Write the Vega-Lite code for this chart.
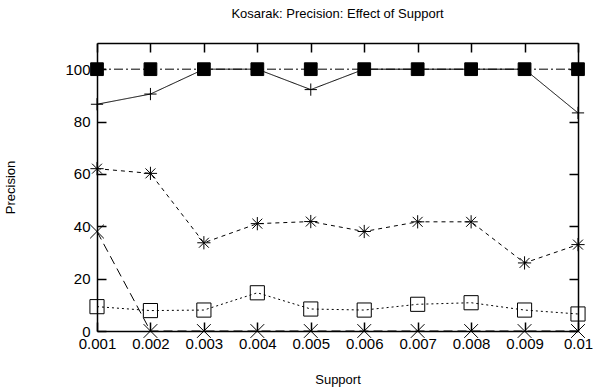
{
  "$schema": "https://vega.github.io/schema/vega-lite/v6.json",
  "autosize": "none",
  "width": 481,
  "height": 288,
  "padding": {"left": 97, "top": 43, "right": 29, "bottom": 61},
  "background": "white",
  "title": {"text": "Kosarak: Precision: Effect of Support", "fontSize": 13, "font": "Liberation Sans", "fontWeight": "normal", "offset": 21, "anchor": "middle", "color": "black"},
  "config": {
    "view": {"stroke": null},
    "axis": {"labelFont": "Liberation Sans", "titleFont": "Liberation Sans", "labelFontSize": 15, "titleFontSize": 13, "titleFontWeight": "normal", "labelColor": "black", "titleColor": "black", "domainColor": "black", "domainWidth": 1.5, "tickColor": "black", "tickWidth": 1.5, "tickSize": -9, "grid": false, "labelFlush": false}
  },
  "data": {"values": [
    {"s": 0.001, "series": "plus", "p": 86.6},
    {"s": 0.002, "series": "plus", "p": 90.5},
    {"s": 0.003, "series": "plus", "p": 100},
    {"s": 0.004, "series": "plus", "p": 100},
    {"s": 0.005, "series": "plus", "p": 92.2},
    {"s": 0.006, "series": "plus", "p": 100},
    {"s": 0.007, "series": "plus", "p": 100},
    {"s": 0.008, "series": "plus", "p": 100},
    {"s": 0.009, "series": "plus", "p": 100},
    {"s": 0.01, "series": "plus", "p": 83.3},
    {"s": 0.001, "series": "fsq", "p": 100},
    {"s": 0.002, "series": "fsq", "p": 100},
    {"s": 0.003, "series": "fsq", "p": 100},
    {"s": 0.004, "series": "fsq", "p": 100},
    {"s": 0.005, "series": "fsq", "p": 100},
    {"s": 0.006, "series": "fsq", "p": 100},
    {"s": 0.007, "series": "fsq", "p": 100},
    {"s": 0.008, "series": "fsq", "p": 100},
    {"s": 0.009, "series": "fsq", "p": 100},
    {"s": 0.01, "series": "fsq", "p": 100},
    {"s": 0.001, "series": "star", "p": 62},
    {"s": 0.002, "series": "star", "p": 60.2},
    {"s": 0.003, "series": "star", "p": 33.7},
    {"s": 0.004, "series": "star", "p": 41},
    {"s": 0.005, "series": "star", "p": 41.8},
    {"s": 0.006, "series": "star", "p": 38},
    {"s": 0.007, "series": "star", "p": 41.7},
    {"s": 0.008, "series": "star", "p": 41.7},
    {"s": 0.009, "series": "star", "p": 26},
    {"s": 0.01, "series": "star", "p": 33},
    {"s": 0.001, "series": "x", "p": 38},
    {"s": 0.002, "series": "x", "p": 0},
    {"s": 0.003, "series": "x", "p": 0},
    {"s": 0.004, "series": "x", "p": 0},
    {"s": 0.005, "series": "x", "p": 0},
    {"s": 0.006, "series": "x", "p": 0},
    {"s": 0.007, "series": "x", "p": 0},
    {"s": 0.008, "series": "x", "p": 0},
    {"s": 0.009, "series": "x", "p": 0},
    {"s": 0.01, "series": "x", "p": 0},
    {"s": 0.001, "series": "osq", "p": 9.3},
    {"s": 0.002, "series": "osq", "p": 7.8},
    {"s": 0.003, "series": "osq", "p": 8},
    {"s": 0.004, "series": "osq", "p": 14.6},
    {"s": 0.005, "series": "osq", "p": 8.4},
    {"s": 0.006, "series": "osq", "p": 8},
    {"s": 0.007, "series": "osq", "p": 10.2},
    {"s": 0.008, "series": "osq", "p": 10.8},
    {"s": 0.009, "series": "osq", "p": 8},
    {"s": 0.01, "series": "osq", "p": 6.5}
  ]},
  "layer": [
    {
      "mark": {"type": "line", "color": "black", "strokeWidth": 1, "clip": false},
      "encoding": {
        "x": {"field": "s", "type": "quantitative", "scale": {"domain": [0.001, 0.01], "nice": false, "zero": false},
          "axis": {"title": "Support", "values": [0.001, 0.002, 0.003, 0.004, 0.005, 0.006, 0.007, 0.008, 0.009, 0.01], "format": "~g", "labelPadding": 14, "titlePadding": 22}},
        "y": {"field": "p", "type": "quantitative", "scale": {"domain": [0, 110], "nice": false},
          "axis": {"title": "Precision", "values": [0, 20, 40, 60, 80, 100], "labelPadding": 16, "titleX": -87, "titleY": 144, "titleAngle": -90, "titleBaseline": "middle"}},
        "detail": {"field": "series"},
        "strokeDash": {"field": "series", "type": "nominal", "legend": null,
          "scale": {"domain": ["plus", "fsq", "star", "x", "osq"], "range": [[1, 0], [9, 3, 2, 3], [4, 4], [9, 5], [2, 3]]}}
      }
    },
    {
      "mark": {"type": "point", "filled": true, "stroke": "black", "strokeWidth": 1, "opacity": 1, "clip": false},
      "encoding": {
        "x": {"field": "s", "type": "quantitative", "axis": null},
        "y": {"field": "p", "type": "quantitative", "axis": null},
        "shape": {"field": "series", "type": "nominal", "legend": null,
          "scale": {"domain": ["plus", "fsq", "star", "x", "osq"], "range": ["M-1,0L1,0M0,-1L0,1", "square", "M-1,0L1,0M0,-1L0,1M-0.75,-0.75L0.75,0.75M-0.75,0.75L0.75,-0.75", "M-1,-1L1,1M-1,1L1,-1", "square"]}},
        "fill": {"field": "series", "type": "nominal", "legend": null,
          "scale": {"domain": ["plus", "fsq", "star", "x", "osq"], "range": ["transparent", "black", "transparent", "transparent", "transparent"]}},
        "size": {"field": "series", "type": "nominal", "legend": null,
          "scale": {"domain": ["plus", "fsq", "star", "x", "osq"], "range": [150, 200, 150, 150, 140]}}
      }
    },
    {
      "mark": {"type": "point", "opacity": 0},
      "encoding": {
        "x": {"field": "s", "type": "quantitative", "axis": {"orient": "top", "title": null, "labels": false, "values": [0.001, 0.002, 0.003, 0.004, 0.005, 0.006, 0.007, 0.008, 0.009, 0.01]}},
        "y": {"field": "p", "type": "quantitative", "axis": {"orient": "right", "title": null, "labels": false, "values": [0, 20, 40, 60, 80, 100]}}
      }
    }
  ],
  "resolve": {"axis": {"x": "independent", "y": "independent"}}
}
